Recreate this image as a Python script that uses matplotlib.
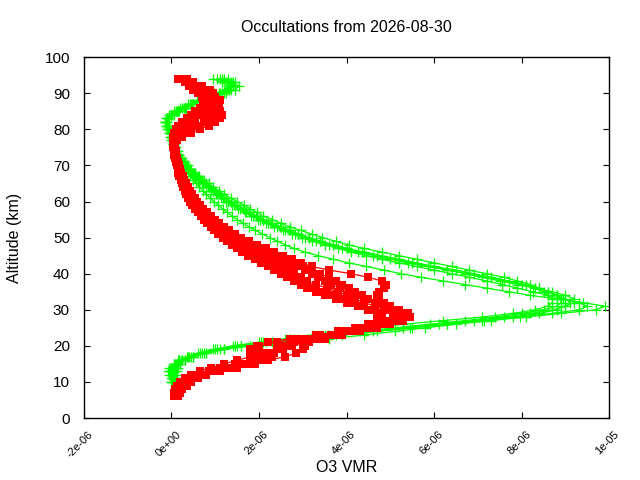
import matplotlib
matplotlib.use("Agg")
import matplotlib.pyplot as plt

plt.rcParams['font.family'] = ['Liberation Sans', 'DejaVu Sans']

# altitude grids (km)
alt_green = [10, 11, 12, 13, 14, 15, 16, 17, 18, 19, 20, 21, 22, 23, 24, 25, 26, 27, 28, 29,
             30, 31, 32, 33, 34, 35, 36, 37, 38, 39, 40, 41, 42, 43, 44, 45, 46, 47, 48, 49,
             50, 51, 52, 53, 54, 55, 56, 57, 58, 59, 60, 61, 62, 63, 64, 65, 66, 67, 68, 69,
             70, 71, 72, 73, 74, 75, 76, 77, 78, 79, 80, 81, 82, 83, 84, 85, 86, 87, 88, 89,
             90, 91, 92, 93, 94]
alt_red = [6, 7, 8, 9] + alt_green

# O3 VMR in ppm (x1e-6), one list per occultation
green_1 = [0.02, 0.03, 0.03, 0.05, 0.08, 0.12, 0.25, 0.45, 0.75, 1.1,
           1.6, 2.3, 3.1, 3.9, 4.7, 5.5, 6.3, 7.1, 7.8, 8.4,
           8.8, 9.0, 9.1, 9.0, 8.8, 8.6, 8.4, 8.1, 7.7, 7.3,
           6.9, 6.5, 6.0, 5.6, 5.2, 4.8, 4.4, 4.0, 3.7, 3.4,
           3.15, 2.9, 2.7, 2.5, 2.3, 2.1, 1.95, 1.8, 1.65, 1.5,
           1.35, 1.2, 1.08, 0.96, 0.85, 0.75, 0.65, 0.56, 0.47, 0.39,
           0.32, 0.26, 0.2, 0.15, 0.11, 0.08, 0.05, 0.03, 0.01, -0.02,
           -0.05, -0.08, -0.1, -0.05, 0.05, 0.18, 0.33, 0.5, 0.72, 0.95,
           1.2, 1.35, 1.3, 1.15, 0.95]
green_2 = [0.0, 0.0, -0.05, -0.08, -0.05, 0.05, 0.15, 0.35, 0.6, 0.95,
           1.4, 2.0, 2.7, 3.5, 4.3, 5.1, 5.9, 6.7, 7.4, 8.0,
           8.5, 8.8, 8.9, 8.9, 8.8, 8.6, 8.4, 8.2, 7.9, 7.6,
           7.2, 6.8, 6.4, 6.0, 5.6, 5.2, 4.8, 4.4, 4.05, 3.75,
           3.45, 3.2, 2.95, 2.7, 2.5, 2.3, 2.1, 1.95, 1.8, 1.65,
           1.5, 1.35, 1.2, 1.08, 0.96, 0.85, 0.74, 0.64, 0.54, 0.45,
           0.37, 0.3, 0.24, 0.18, 0.14, 0.1, 0.07, 0.04, 0.02, 0.0,
           -0.03, -0.06, -0.12, -0.08, 0.0, 0.12, 0.28, 0.45, 0.68, 0.9,
           1.1, 1.25, 1.4, 1.3, 1.1]
green_3 = [0.05, 0.05, 0.08, 0.1, 0.12, 0.2, 0.3, 0.5, 0.8, 1.2,
           1.8, 2.6, 3.6, 4.4, 5.1, 5.8, 6.5, 7.3, 8.1, 8.9,
           9.7, 9.9, 9.4, 8.8, 8.2, 7.7, 7.2, 6.7, 6.2, 5.7,
           5.25, 4.85, 4.45, 4.05, 3.7, 3.35, 3.05, 2.8, 2.6, 2.42,
           2.25, 2.08, 1.92, 1.77, 1.63, 1.5, 1.38, 1.27, 1.17, 1.07,
           0.97, 0.88, 0.8, 0.72, 0.64, 0.57, 0.5, 0.43, 0.37, 0.31,
           0.26, 0.21, 0.16, 0.12, 0.09, 0.06, 0.04, 0.02, 0.0, -0.05,
           -0.08, -0.12, -0.15, -0.1, 0.0, 0.15, 0.3, 0.5, 0.75, 1.0,
           1.25, 1.45, 1.55, 1.35, 1.15]
green_4 = [0.1, 0.1, 0.1, 0.12, 0.15, 0.2, 0.3, 0.5, 0.8, 1.2,
           1.6, 2.1, 2.6, 3.2, 3.8, 4.5, 5.3, 6.2, 7.1, 7.8,
           8.3, 8.6, 8.7, 8.7, 8.6, 8.5, 8.3, 8.0, 7.6, 7.2,
           6.8, 6.3, 5.9, 5.5, 5.1, 4.7, 4.35, 4.0, 3.7, 3.4,
           3.15, 2.9, 2.68, 2.48, 2.28, 2.1, 1.93, 1.78, 1.63, 1.49,
           1.36, 1.24, 1.12, 1.0, 0.89, 0.79, 0.69, 0.6, 0.51, 0.43,
           0.35, 0.28, 0.22, 0.17, 0.12, 0.08, 0.05, 0.02, 0.0, -0.03,
           -0.06, -0.1, -0.13, -0.12, -0.05, 0.05, 0.2, 0.38, 0.58, 0.8,
           1.0, 1.2, 1.35, 1.45, 1.3]
green_5 = [0.0, 0.02, 0.0, -0.03, 0.0, 0.08, 0.18, 0.38, 0.65, 1.0,
           1.45, 2.05, 2.8, 3.6, 4.45, 5.3, 6.1, 6.9, 7.6, 8.2,
           8.7, 9.0, 9.2, 9.2, 9.0, 8.7, 8.3, 7.9, 7.5, 7.1,
           6.7, 6.3, 5.85, 5.4, 5.0, 4.6, 4.25, 3.9, 3.6, 3.3,
           3.05, 2.82, 2.6, 2.4, 2.2, 2.02, 1.86, 1.71, 1.57, 1.43,
           1.3, 1.17, 1.05, 0.94, 0.83, 0.73, 0.63, 0.54, 0.46, 0.38,
           0.31, 0.25, 0.19, 0.14, 0.1, 0.06, 0.03, 0.0, -0.03, -0.06,
           -0.09, -0.12, -0.14, -0.1, -0.02, 0.1, 0.25, 0.42, 0.62, 0.85,
           1.08, 1.28, 1.4, 1.25, 1.05]
green_6 = [0.08, 0.06, 0.04, 0.02, 0.03, 0.1, 0.22, 0.4, 0.7, 1.05,
           1.5, 2.15, 2.9, 3.75, 4.6, 5.45, 6.3, 7.15, 7.95, 8.7,
           9.3, 9.5, 9.3, 8.95, 8.6, 8.25, 7.9, 7.55, 7.2, 6.8,
           6.4, 6.0, 5.6, 5.2, 4.8, 4.45, 4.1, 3.8, 3.5, 3.22,
           2.98, 2.75, 2.54, 2.34, 2.15, 1.98, 1.82, 1.67, 1.52, 1.38,
           1.25, 1.13, 1.01, 0.9, 0.8, 0.7, 0.61, 0.52, 0.44, 0.37,
           0.3, 0.24, 0.18, 0.13, 0.09, 0.06, 0.03, 0.01, -0.01, -0.03,
           -0.06, -0.09, -0.11, -0.07, 0.02, 0.14, 0.3, 0.48, 0.68, 0.92,
           1.15, 1.32, 1.45, 1.4, 1.2]

red_1 = [0.05, 0.08, 0.1, 0.15,
         0.25, 0.4, 0.6, 0.85, 1.1, 1.45, 1.8, 2.1, 2.35, 2.55,
         2.75, 3.0, 3.3, 3.65, 4.05, 4.45, 4.8, 5.05, 5.2, 5.2,
         5.05, 4.85, 4.65, 4.45, 4.25, 4.05, 3.85, 3.65, 3.5, 3.35,
         3.2, 3.05, 2.9, 2.72, 2.52, 2.32, 2.12, 1.92, 1.74, 1.58,
         1.44, 1.32, 1.2, 1.09, 0.99, 0.9, 0.82, 0.74, 0.67, 0.6,
         0.54, 0.48, 0.43, 0.38, 0.34, 0.3, 0.27, 0.24, 0.21, 0.18,
         0.15, 0.13, 0.11, 0.09, 0.08, 0.07, 0.07, 0.08, 0.1, 0.14,
         0.2, 0.3, 0.42, 0.55, 0.7, 0.85, 0.95, 1.0, 0.95, 0.85,
         0.7, 0.55, 0.4, 0.3, 0.22]
red_2 = [0.1, 0.12, 0.15, 0.2,
         0.3, 0.45, 0.7, 1.0, 1.4, 1.8, 2.15, 2.3, 2.2, 2.0,
         1.95, 2.2, 2.7, 3.3, 3.8, 4.2, 4.5, 4.7, 4.8, 4.75,
         4.6, 4.4, 4.15, 3.9, 3.65, 3.4, 3.2, 3.0, 2.85, 2.7,
         2.6, 2.5, 2.38, 2.25, 2.1, 1.95, 1.8, 1.65, 1.5, 1.37,
         1.25, 1.14, 1.04, 0.95, 0.86, 0.78, 0.7, 0.63, 0.57, 0.51,
         0.46, 0.41, 0.37, 0.33, 0.29, 0.26, 0.23, 0.2, 0.17, 0.15,
         0.12, 0.1, 0.08, 0.06, 0.05, 0.04, 0.04, 0.05, 0.07, 0.1,
         0.15, 0.22, 0.32, 0.45, 0.6, 0.75, 0.9, 1.05, 1.1, 1.0,
         0.85, 0.65, 0.45, 0.3, 0.15]
red_3 = [0.05, 0.05, 0.08, 0.12,
         0.2, 0.3, 0.45, 0.65, 0.9, 1.2, 1.5, 1.8, 2.1, 2.4,
         2.7, 3.1, 3.5, 3.9, 4.3, 4.7, 5.0, 5.25, 5.35, 5.3,
         5.2, 5.0, 4.85, 4.75, 4.7, 4.75, 4.85, 4.9, 4.8, 4.5,
         4.1, 3.6, 3.2, 2.95, 2.75, 2.55, 2.35, 2.15, 1.95, 1.77,
         1.6, 1.45, 1.32, 1.2, 1.09, 0.99, 0.9, 0.81, 0.73, 0.66,
         0.59, 0.53, 0.47, 0.42, 0.37, 0.33, 0.29, 0.26, 0.23, 0.2,
         0.17, 0.15, 0.13, 0.11, 0.1, 0.09, 0.09, 0.12, 0.25, 0.45,
         0.65, 0.85, 1.0, 1.1, 1.15, 1.1, 1.0, 0.9, 0.8, 0.7,
         0.6, 0.5, 0.4, 0.35, 0.3]
red_4 = [0.15, 0.2, 0.25, 0.35,
         0.45, 0.6, 0.8, 1.1, 1.5, 1.9, 2.1, 2.0, 1.85, 1.8,
         2.0, 2.4, 2.9, 3.4, 3.9, 4.3, 4.6, 4.75, 4.8, 4.7,
         4.5, 4.25, 4.0, 3.75, 3.5, 3.3, 3.1, 2.95, 2.8, 2.65,
         2.5, 2.35, 2.2, 2.05, 1.9, 1.75, 1.62, 1.5, 1.38, 1.27,
         1.17, 1.07, 0.98, 0.9, 0.82, 0.74, 0.67, 0.6, 0.54, 0.48,
         0.43, 0.38, 0.34, 0.3, 0.27, 0.24, 0.21, 0.18, 0.16, 0.14,
         0.12, 0.1, 0.08, 0.06, 0.05, 0.04, 0.03, 0.03, 0.04, 0.06,
         0.1, 0.16, 0.25, 0.35, 0.45, 0.55, 0.65, 0.72, 0.78, 0.8,
         0.78, 0.7, 0.55, 0.4, 0.25]
red_5 = [0.08, 0.1, 0.12, 0.18,
         0.28, 0.42, 0.62, 0.9, 1.25, 1.7, 2.2, 2.6, 2.85, 3.0,
         3.05, 3.15, 3.4, 3.75, 4.15, 4.6, 5.0, 5.3, 5.45, 5.4,
         5.2, 4.95, 4.7, 4.5, 4.35, 4.2, 4.05, 3.9, 3.75, 3.6,
         3.4, 3.2, 3.0, 2.8, 2.6, 2.4, 2.2, 2.0, 1.82, 1.65,
         1.5, 1.37, 1.25, 1.14, 1.03, 0.93, 0.84, 0.76, 0.68, 0.61,
         0.55, 0.49, 0.44, 0.39, 0.35, 0.31, 0.27, 0.24, 0.21, 0.18,
         0.16, 0.14, 0.12, 0.1, 0.09, 0.08, 0.09, 0.12, 0.18, 0.28,
         0.42, 0.58, 0.75, 0.88, 0.98, 1.05, 1.08, 1.05, 1.0, 0.92,
         0.82, 0.68, 0.52, 0.38, 0.28]
red_6 = [0.12, 0.15, 0.2, 0.28,
         0.38, 0.52, 0.72, 0.98, 1.3, 1.65, 1.95, 2.15, 2.3, 2.45,
         2.6, 2.8, 3.05, 3.4, 3.8, 4.25, 4.65, 4.95, 5.1, 5.05,
         4.9, 4.65, 4.4, 4.2, 4.0, 3.8, 3.55, 3.3, 3.1, 2.95,
         2.8, 2.7, 2.58, 2.45, 2.3, 2.12, 1.94, 1.77, 1.61, 1.47,
         1.34, 1.22, 1.11, 1.01, 0.92, 0.83, 0.75, 0.68, 0.61, 0.55,
         0.49, 0.44, 0.39, 0.35, 0.31, 0.28, 0.25, 0.22, 0.19, 0.16,
         0.14, 0.12, 0.1, 0.08, 0.07, 0.06, 0.06, 0.06, 0.08, 0.12,
         0.18, 0.27, 0.38, 0.5, 0.62, 0.72, 0.8, 0.88, 0.92, 0.95,
         0.95, 0.88, 0.7, 0.5, 0.35]

green_profiles = [green_1, green_2, green_3, green_4, green_5, green_6]
red_profiles = [red_1, red_2, red_3, red_4, red_5, red_6]

xtick_vals = [-2e-06, 0.0, 2e-06, 4e-06, 6e-06, 8e-06, 1e-05]
xtick_labels = ['-2e-06', '0e+00', '2e-06', '4e-06', '6e-06', '8e-06', '1e-05']
ytick_vals = [0, 10, 20, 30, 40, 50, 60, 70, 80, 90, 100]

fig = plt.figure(figsize=(6.4, 4.8), dpi=100)
ax = fig.add_axes([0.131, 0.129, 0.821, 0.752])

for prof in green_profiles:
    ax.plot([v * 1e-6 for v in prof], alt_green, color='#00ff00', lw=0.9,
            marker='+', markersize=7, markeredgewidth=0.9)
for prof in red_profiles:
    ax.plot([v * 1e-6 for v in prof], alt_red, color='#ff0000', lw=0.9,
            marker='s', markersize=6, markeredgewidth=0)

ax.set_xlim(-2e-06, 1e-05)
ax.set_ylim(0, 100)
ax.set_xticks(xtick_vals)
ax.set_xticklabels([])
# rotated labels placed like gnuplot: end of text right of and below the tick
for val, lab in zip(xtick_vals, xtick_labels):
    ax.annotate(lab, xy=(val, 0), xycoords=('data', 'axes fraction'),
                xytext=(5.5, -10.5), textcoords='offset points',
                rotation=45, ha='right', va='center', rotation_mode='anchor',
                fontsize=8, annotation_clip=False)
ax.set_yticks(ytick_vals)
ax.tick_params(axis='y', labelsize=11, pad=10)
ax.tick_params(direction='in', top=True, right=True, length=4, width=0.8)
for s in ax.spines.values():
    s.set_linewidth(1)

ax.set_xlabel('O3 VMR', fontsize=11.5, labelpad=27)
ax.set_ylabel('Altitude (km)', fontsize=11.5, labelpad=16)
ax.set_title('Occultations from 2026-08-30', fontsize=11.5, pad=18)

fig.savefig('out.png', dpi=100)
